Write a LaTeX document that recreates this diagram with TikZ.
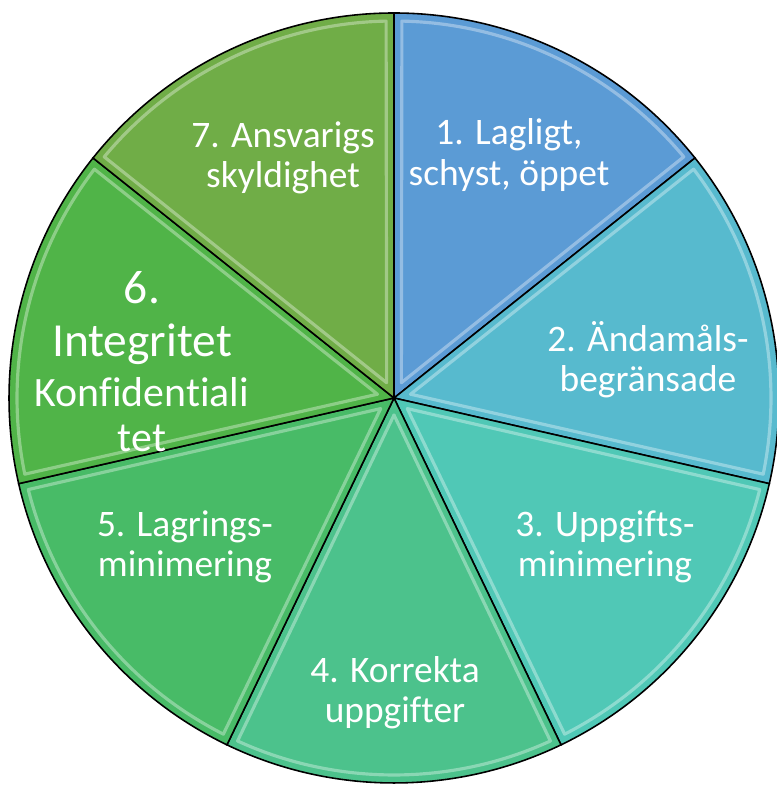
\documentclass[tikz,border=0pt]{standalone}
\usepackage{fontspec}
\setmainfont{Carlito}[Ligatures=NoCommon]
\definecolor{pone}{RGB}{91,155,213}
\definecolor{ptwo}{RGB}{87,186,206}
\definecolor{pthree}{RGB}{80,200,182}
\definecolor{pfour}{RGB}{76,194,140}
\definecolor{pfive}{RGB}{72,187,103}
\definecolor{psix}{RGB}{80,180,72}
\definecolor{pseven}{RGB}{112,173,71}
\newcommand\biglbl{\fontsize{27}{30}\selectfont}
\newcommand\midlbl{\fontsize{23.8}{26}\selectfont}
\begin{document}
\begin{tikzpicture}[x=0.02cm,y=0.02cm,
  slice/.style={draw=black,line width=0.9pt},
  shine/.style={draw=white,opacity=0.35,line width=1.8pt,line join=round},
  lbl/.style={text=white,align=center,font=\fontsize{21.3}{22.8}\selectfont}]
\useasboundingbox (0,0) rectangle (777,785);
\coordinate (o) at (394,387);
%\node at (394,800) {slices};
\foreach \c [count=\i] in {pone,ptwo,pthree,pfour,pfive,psix,pseven}{
  \pgfmathsetmacro\a{90-(\i-1)*360/7}
  \pgfmathsetmacro\b{90-\i*360/7}
  \pgfmathsetmacro\m{90-(\i-0.5)*360/7}
  \filldraw[slice,fill=\c] (o) -- ([shift={(\a:385)}]o) arc[start angle=\a,end angle=\b,radius=385] -- cycle;
  \draw[shine] ([shift={(\m:17)}]o) -- ([shift={(\a-1.2:377)}]o) arc[start angle=\a-1.2,end angle=\b+1.2,radius=377] -- cycle;
}
\node[lbl] (p1) at (509,630) {1. Lagligt,\\schyst, öppet};
\node[lbl] (p2) at (648,425) {2. Ändamåls-\\begränsade};
\node[lbl] (p3) at (605,238) {3. Uppgifts-\\minimering};
\node[lbl] (p4) at (395,92) {4. Korrekta\\uppgifter};
\node[lbl] (p5) at (185,238) {5. Lagrings-\\minimering};
\node[lbl] (p6) at (142,423) {{\biglbl 6.}\\[0.26cm]{\biglbl Integritet}\\[0.2cm]{\midlbl Konfidentiali}\\[0.1cm]{\midlbl tet}};
\node[lbl] (p7) at (283,627) {7. Ansvarigs\\skyldighet};
\end{tikzpicture}
\end{document}
